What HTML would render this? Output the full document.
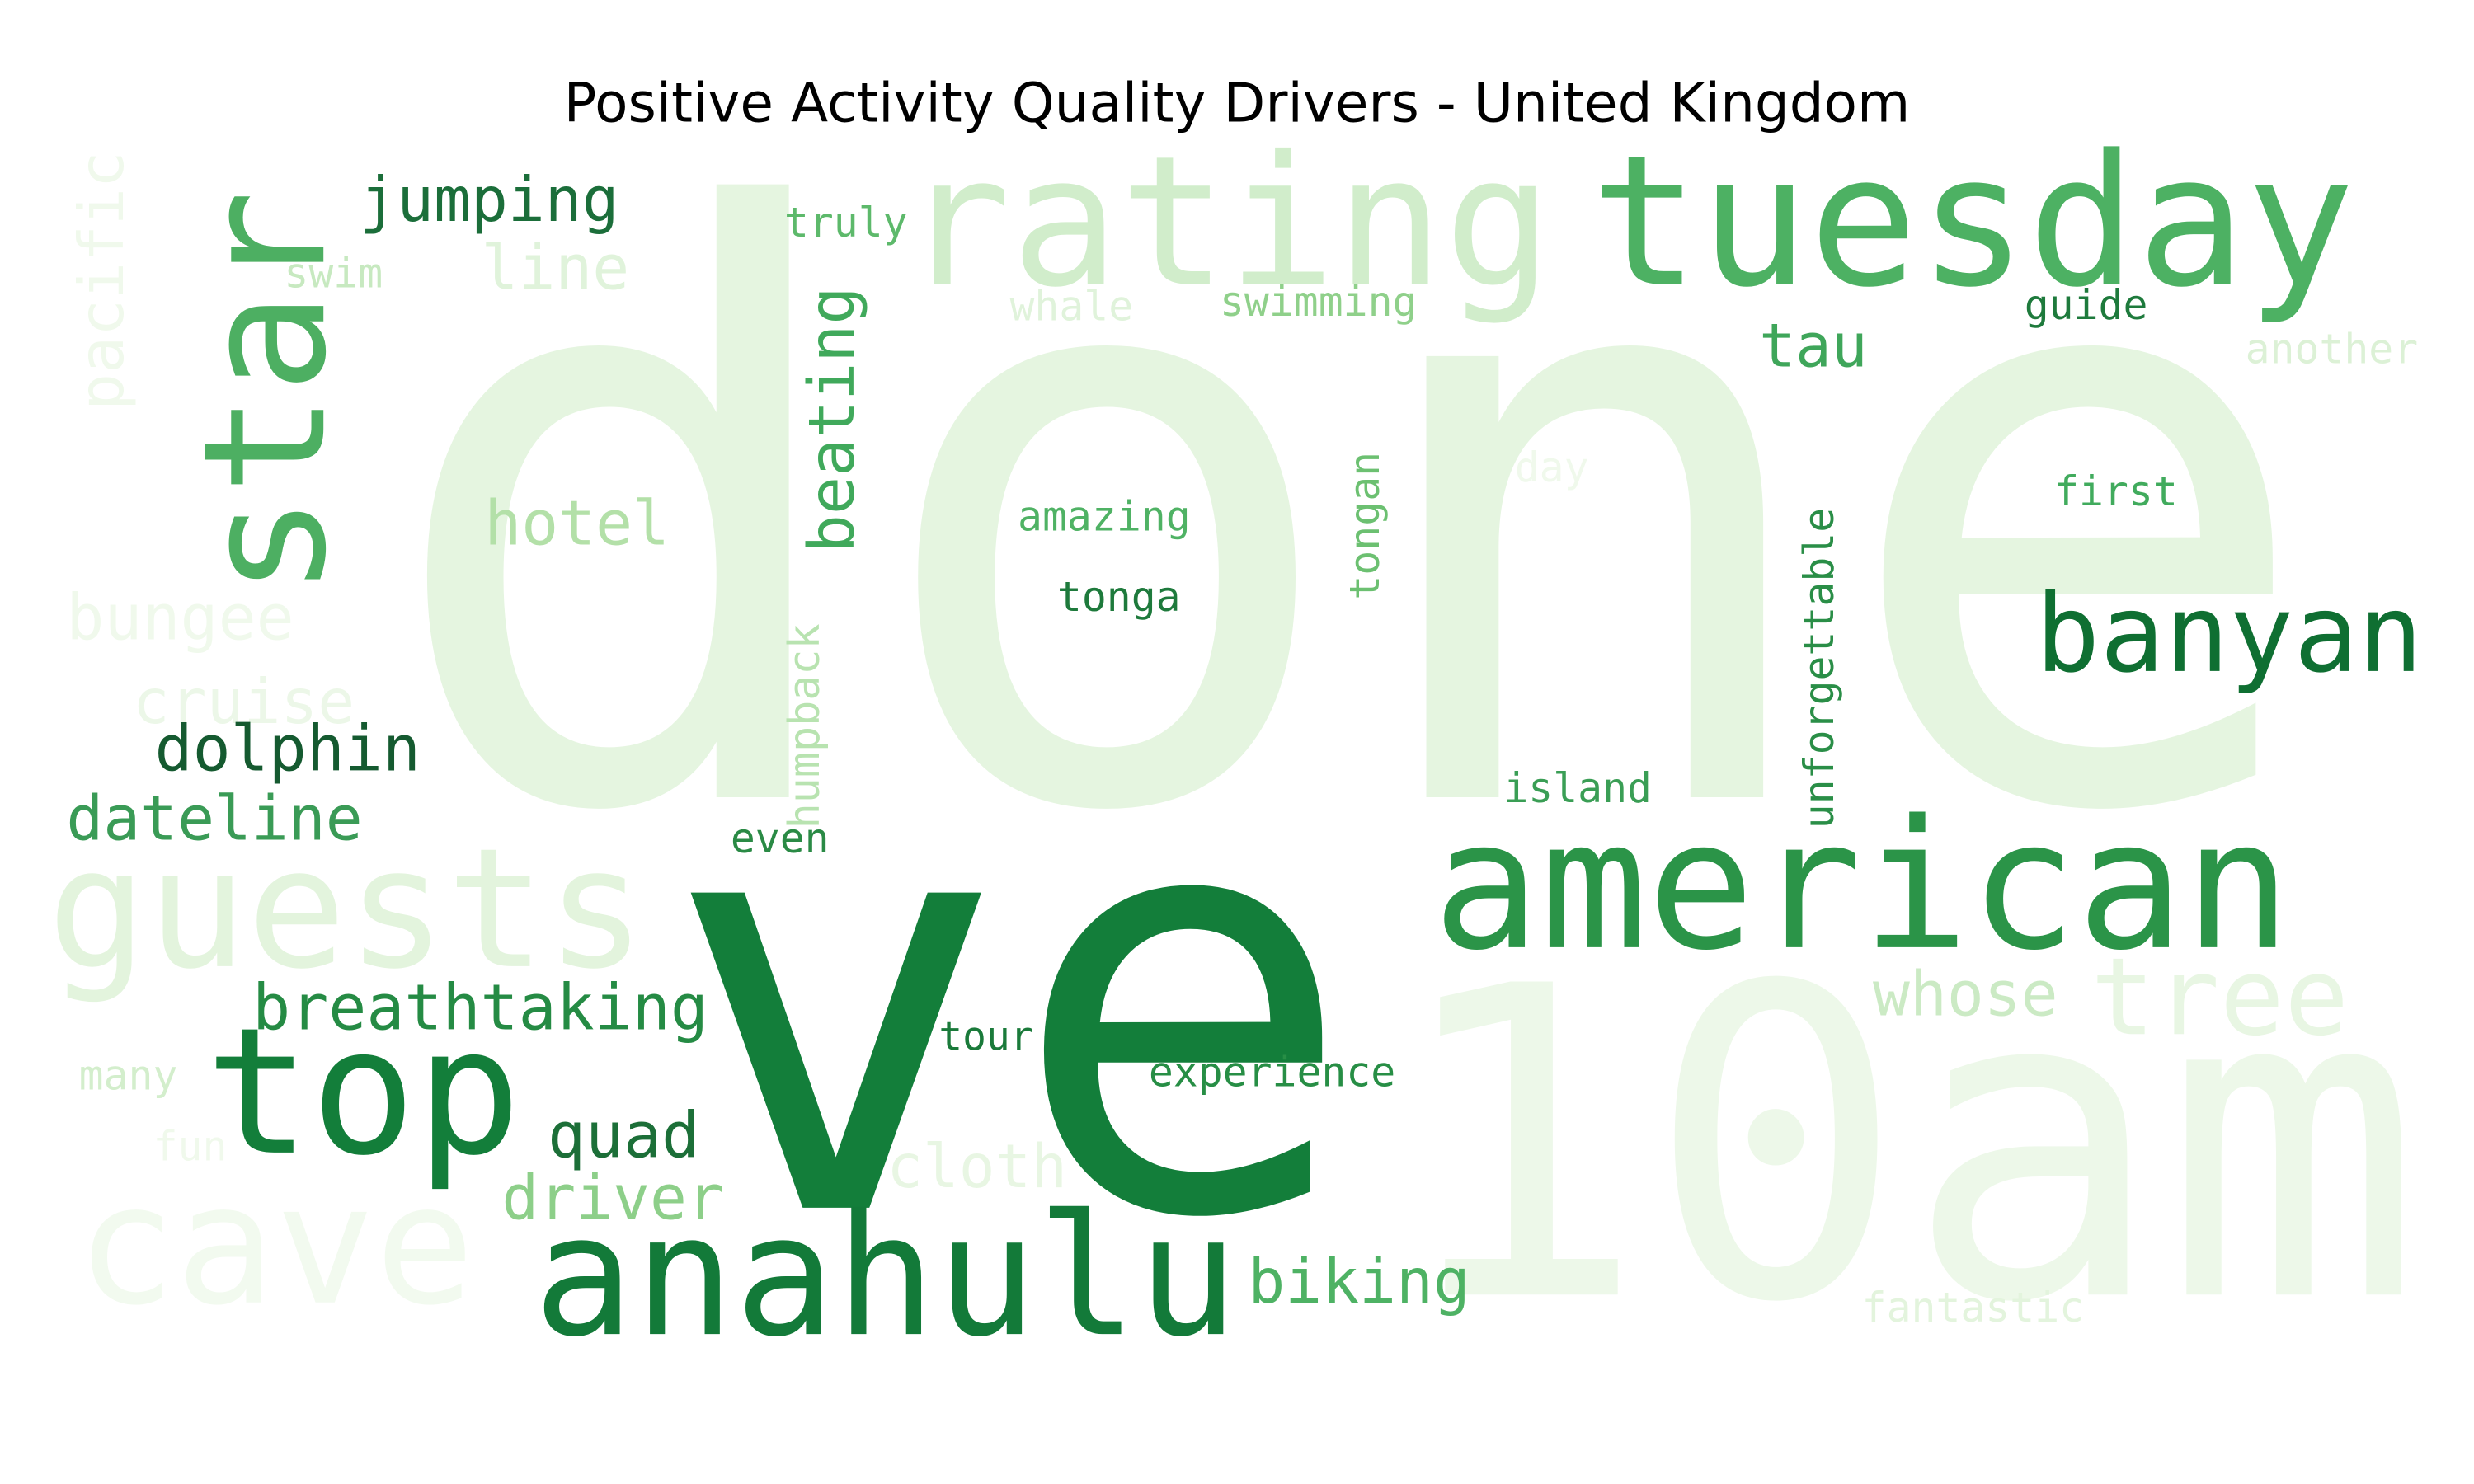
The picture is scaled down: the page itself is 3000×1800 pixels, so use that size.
<!DOCTYPE html>
<html><head><meta charset="utf-8"><style>
html,body{margin:0;padding:0;background:#fff;}
svg{display:block;}
</style></head><body>
<svg width="3000" height="1800" viewBox="0 0 1568 940" preserveAspectRatio="none" xmlns="http://www.w3.org/2000/svg">
<rect width="1568" height="940" fill="#fff"/>
<text x="784" y="77" text-anchor="middle" font-family="'DejaVu Sans','Liberation Sans',sans-serif" font-size="34.5" fill="#000">Positive Activity Quality Drivers - United Kingdom</text>
<g id="cloud" font-family="'DejaVu Sans Mono','Liberation Mono',monospace"></g>
</svg>
<script>
const words = ["done","ve","10am","rating","tuesday","star","jumping","truly","line","swim","pacific","whale","swimming","guide","another","tau","beating","day","first","hotel","amazing","tongan","tonga","unforgettable","banyan","bungee","cruise","humpback","dolphin","island","dateline","even","american","guests","breathtaking","whose","tree","top","tour","many","experience","quad","fun","cloth","driver","cave","anahulu","biking","fantastic"];
const sizes = [511,365,272,114,115,107,39,26,39,26,39,26,26,26,26,38,40,26,26,39,26,26,26,26,68,40,39,27,40,26,39,26,113,105,40,39,68,111,25,26,26,40,26,38,39,105,106,39,26];
const colors = ["#e5f5e0","#137e3a","#edf8e9","#d1edcb","#4db163","#4daf62","#1b6e3a","#5db96b","#e0f3db","#c7e9c0","#f0f9ec","#e0f3db","#8fd08a","#1e7a3c","#dcf1d6","#3fa65a","#40a95b","#f0f9ec","#41ab5d","#b3e0a8","#4fb264","#6cc071","#1e7a3c","#2a8e47","#0f6f32","#f0f9ec","#ecf7e8","#b8e3b0","#155a30","#3a9e55","#3a9b56","#2a8a45","#2b9448","#e3f4dd","#258b44","#cbeac4","#e8f6e3","#137e3a","#1a7a3a","#d3eecc","#278e45","#1c6f38","#f0f9ec","#e8f6e3","#8dcf89","#f2faef","#137a39","#4eb264","#e3f4dd"];
const xs = [240,420,880,572,1008,205,228,497,305,180,78,640,773,1283,1423,1115,541,960,1302,307,645,874,670,1162,1290,42,84,519,98,953,42,463,908,30,160,1187,1325,130,595,50,728,347,97,562,318,48,338,791,1180];
const ys = [505,765,820,180,180,378,140,150,183,182,260,203,200,202,230,232,350,305,320,345,336,380,387,525,425,405,458,525,488,508,532,540,600,612,652,643,655,730,665,690,688,733,735,752,772,825,845,825,837];
const vertical = [0,0,0,0,0,1,0,0,0,0,1,0,0,0,0,0,1,0,0,0,0,1,0,1,0,0,0,1,0,0,0,0,0,0,0,0,0,0,0,0,0,0,0,0,0,0,0,0,0];
const g = document.getElementById('cloud');
const NS = "http://www.w3.org/2000/svg";
words.forEach((w,i)=>{
  const t = document.createElementNS(NS,'text');
  
  
  t.setAttribute('font-size', sizes[i]);
  t.setAttribute('fill', colors[i]);
  t.setAttribute('x', 0);
  t.setAttribute('y', 0);
  t.setAttribute('transform', `translate(${xs[i]},${ys[i]})` + (vertical[i] ? ' rotate(-90)' : ''));
  t.textContent = w;
  g.appendChild(t);
});
</script>
</body></html>
